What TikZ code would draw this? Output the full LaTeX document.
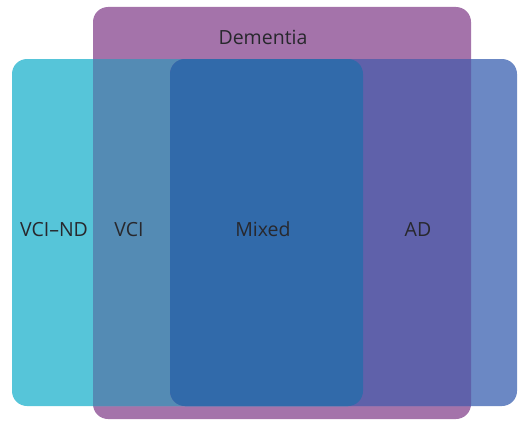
\documentclass[tikz,border=0pt]{standalone}
\usepackage{fontspec}
\setmainfont{Open Sans}
\definecolor{cP}{RGB}{164,115,170}
\definecolor{cC}{RGB}{86,197,217}
\definecolor{cB}{RGB}{107,136,196}
\definecolor{cPC}{RGB}{84,139,180}
\definecolor{cPB}{RGB}{95,97,170}
\definecolor{cM}{RGB}{49,106,170}
\definecolor{txt}{RGB}{40,40,45}
\begin{document}
\begin{tikzpicture}[x=1pt,y=-1pt,
  lab/.style={font=\fontsize{19.5}{21}\selectfont, text=txt, anchor=base, inner sep=0pt},
  rr/.style={rounded corners=15pt}]
\useasboundingbox (0,0) rectangle (518,420);
\def\Prect{(93,7) rectangle (471,419)}
\def\Crect{(12,59) rectangle (363,406)}
\def\Brect{(170,59) rectangle (517,406)}
\fill[cP,rr] \Prect;
\fill[cC,rr] \Crect;
\fill[cB,rr] \Brect;
\begin{scope}
  \clip[rr] \Prect;
  \fill[cPC,rr] \Crect;
  \fill[cPB,rr] \Brect;
  \begin{scope}
    \clip[rr] \Crect;
    \fill[cM,rr] \Brect;
  \end{scope}
\end{scope}
\node[lab] (dem) at (263,45) {Dementia};
\node[lab] (vcind) at (54,236) {VCI–ND};
\node[lab] (vci) at (129,236) {VCI};
\node[lab] (mixed) at (263,236) {Mixed};
\node[lab] (ad) at (418,236) {AD};
\end{tikzpicture}
\end{document}
